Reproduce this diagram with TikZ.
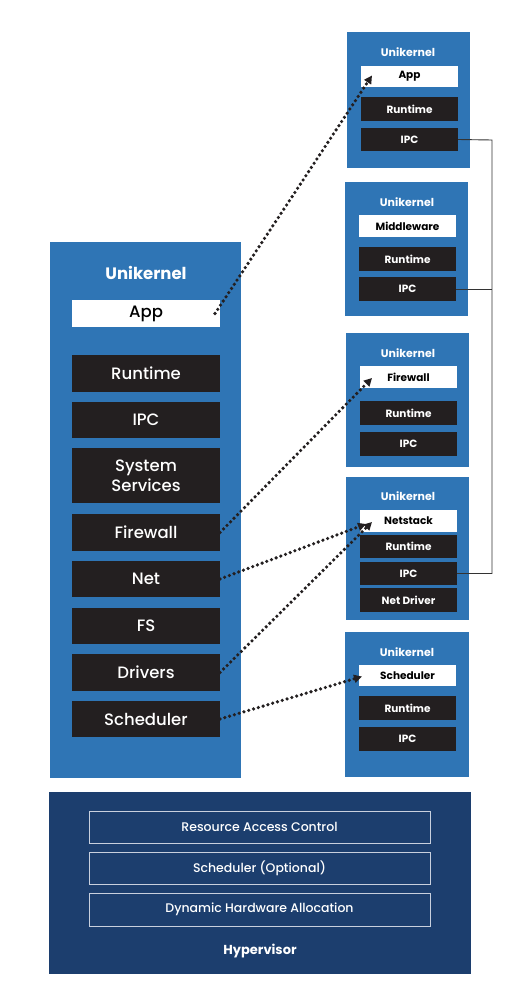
\documentclass[tikz,border=0pt]{standalone}
\usepackage{fontspec}
\setmainfont{Poppins}
\newfontfamily\pmed{Poppins Medium}
\usetikzlibrary{arrows.meta}
\definecolor{ukblue}{RGB}{47,117,181}
\definecolor{dkbox}{RGB}{35,31,32}
\definecolor{hvnavy}{RGB}{28,62,110}
\definecolor{hvline}{RGB}{200,208,222}
\tikzset{
  lay/.style={inner sep=0pt, outer sep=0pt, anchor=north west},
  ukbox/.style={lay, fill=ukblue},
  ldark/.style={lay, fill=dkbox, text=white, minimum width=148pt, font=\pmed\fontsize{16.5}{19}\selectfont, align=center},
  lwhite/.style={lay, fill=white, text=black, minimum width=148pt, font=\pmed\fontsize{16.5}{19}\selectfont},
  rdark/.style={lay, fill=dkbox, text=white, minimum width=97pt, minimum height=24pt, font=\bfseries\fontsize{10.5}{12}\selectfont},
  rwhite/.style={lay, fill=white, text=black, minimum width=97pt, minimum height=22pt, font=\bfseries\fontsize{10.5}{12}\selectfont},
  rtitle/.style={text=white, font=\bfseries\fontsize{11}{13}\selectfont, inner sep=0pt},
  hvitem/.style={lay, draw=hvline, line width=1pt, minimum width=341pt, minimum height=32pt, text=white, font=\pmed\fontsize{12.5}{15}\selectfont},
  dotarrow/.style={line width=3.6pt, dash pattern=on 0pt off 5pt, line cap=round, dkbox, -{Triangle[length=8pt,width=8pt,line cap=butt]}},
  bus/.style={line width=0.9pt, draw=black!80}
}
\begin{document}
\begin{tikzpicture}[x=1pt,y=-1pt]
\useasboundingbox[fill=white] (0,0) rectangle (526,1003);

% ---------- left unikernel ----------
\node[ukbox, minimum width=191pt, minimum height=536pt] (lbox) at (50,242) {};
\node[text=white, font=\bfseries\fontsize{16.5}{19}\selectfont, inner sep=0pt] (ltitle) at (146,273) {Unikernel};
\node[lwhite, minimum height=27pt] (lapp) at (72,300) {App};
\node[ldark, minimum height=37pt] (lrun) at (72,355) {Runtime};
\node[ldark, minimum height=36pt] (lipc) at (72,402) {IPC};
\node[ldark, minimum height=55pt] (lsys) at (72,448) {System\\[1pt]Services};
\node[ldark, minimum height=37pt] (lfw) at (72,514) {Firewall};
\node[ldark, minimum height=36pt] (lnet) at (72,561) {Net};
\node[ldark, minimum height=36pt] (lfs) at (72,608) {FS};
\node[ldark, minimum height=37pt] (ldrv) at (72,654) {Drivers};
\node[ldark, minimum height=36pt] (lsch) at (72,701) {Scheduler};

% ---------- right unikernels ----------
% 1
\node[ukbox, minimum width=123pt, minimum height=136pt] (rb1) at (347,32) {};
\node[rtitle] (rt1) at (408,52) {Unikernel};
\node[rwhite, minimum height=21pt] (rapp) at (361,66) {App};
\node[rdark] (rrun1) at (361,97) {Runtime};
\node[rdark, minimum height=23pt] (ripc1) at (361,128) {IPC};
% 2
\node[ukbox, minimum width=123pt, minimum height=134pt] (rb2) at (345,182) {};
\node[rtitle] (rt2) at (407,202) {Unikernel};
\node[rwhite] (rmid) at (359,215) {Middleware};
\node[rdark] (rrun2) at (359,247) {Runtime};
\node[rdark] (ripc2) at (359,277) {IPC};
% 3
\node[ukbox, minimum width=123pt, minimum height=134pt] (rb3) at (346,333) {};
\node[rtitle] (rt3) at (408,353) {Unikernel};
\node[rwhite] (rfw) at (360,366) {Firewall};
\node[rdark] (rrun3) at (360,401) {Runtime};
\node[rdark] (ripc3) at (360,432) {IPC};
% 4
\node[ukbox, minimum width=123pt, minimum height=143pt] (rb4) at (346,477) {};
\node[rtitle] (rt4) at (408,496) {Unikernel};
\node[rwhite] (rns) at (360,510) {Netstack};
\node[rdark, minimum height=23pt] (rrun4) at (360,535) {Runtime};
\node[rdark, minimum height=23pt] (ripc4) at (360,562) {IPC};
\node[rdark, minimum height=24pt] (rnd) at (360,588) {Net Driver};
% 5
\node[ukbox, minimum width=124pt, minimum height=145pt] (rb5) at (345,632) {};
\node[rtitle] (rt5) at (407,652) {Unikernel};
\node[rwhite, minimum height=21pt] (rsch) at (359,665) {Scheduler};
\node[rdark] (rrun5) at (359,696) {Runtime};
\node[rdark] (ripc5) at (359,727) {IPC};

% ---------- hypervisor ----------
\node[lay, fill=hvnavy, minimum width=422pt, minimum height=182pt] (hv) at (49,792) {};
\node[hvitem] (hrac) at (89,811) {Resource Access Control};
\node[hvitem] (hsch) at (89,852) {Scheduler (Optional)};
\node[hvitem, minimum height=33pt] (hdha) at (89,893) {Dynamic Hardware Allocation};
\node[text=white, font=\bfseries\fontsize{13}{15}\selectfont, inner sep=0pt] (hvt) at (260,951) {Hypervisor};

% ---------- IPC bus ----------
\coordinate (bustop) at (492,140);
\draw[bus] (ripc1.east) -- (bustop) |- (ripc4.east);
\draw[bus] (ripc2.east) -- (ripc2.east -| bustop);

% ---------- dotted arrows ----------
\draw[dotarrow] ([xshift=-5pt]lapp.east) -- ([xshift=11pt,yshift=1pt]rapp.west);
\draw[dotarrow] (lfw.east) -- ([xshift=12pt,yshift=-1pt]rfw.west);
\draw[dotarrow] (lnet.east) -- ([xshift=6pt,yshift=-3pt]rns.west);
\draw[dotarrow] (ldrv.east) -- ([xshift=12pt,yshift=-1pt]rns.west);
\draw[dotarrow] (lsch.east) -- ([xshift=3pt,yshift=-1pt]rsch.west);
\end{tikzpicture}
\end{document}
